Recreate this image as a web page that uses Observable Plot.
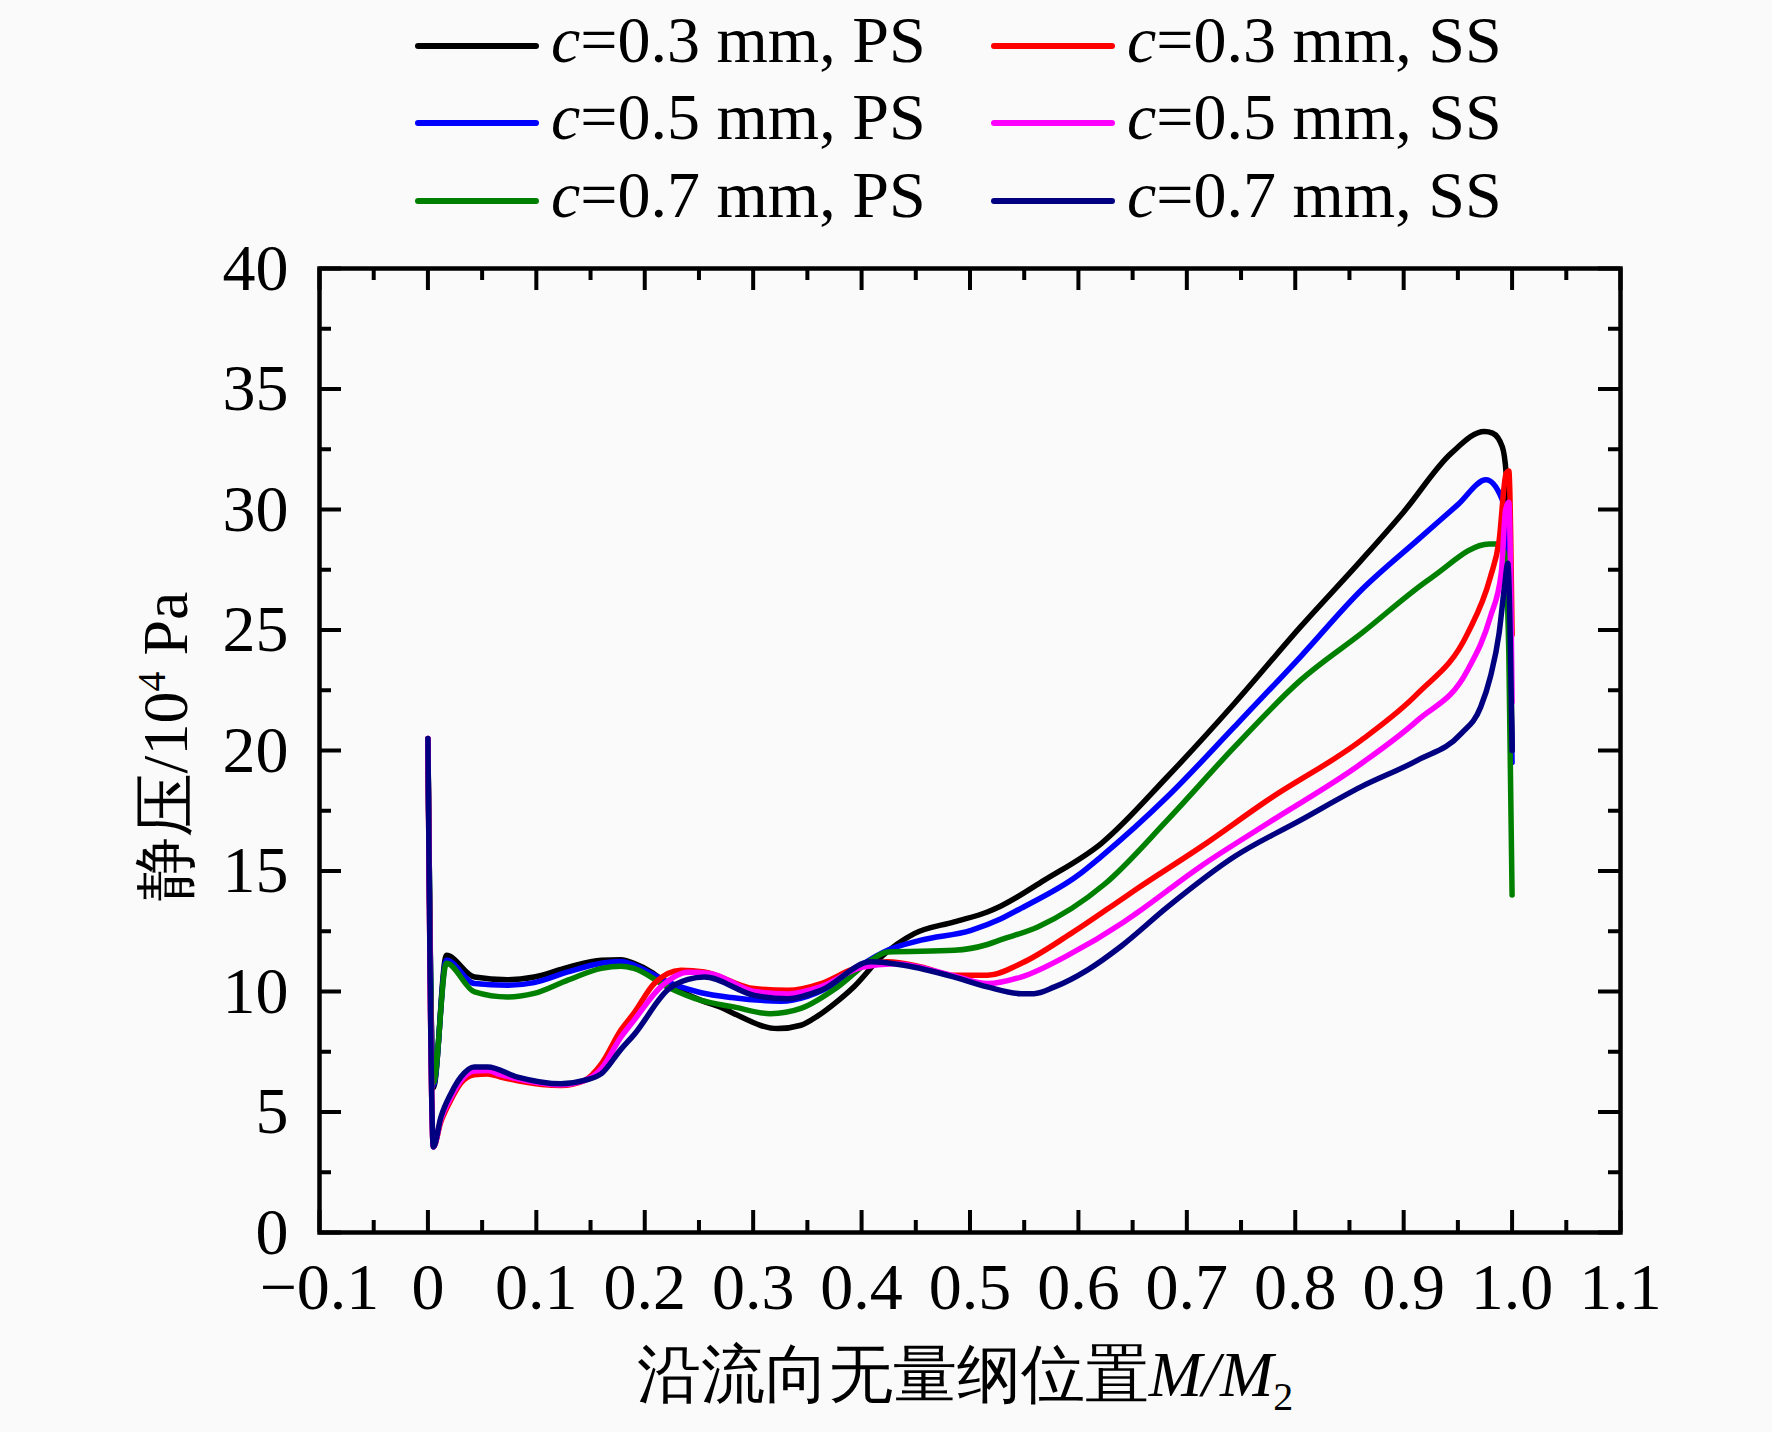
<!DOCTYPE html>
<html>
<head>
<meta charset="utf-8">
<script src="https://cdn.jsdelivr.net/npm/d3@7"></script>
<script src="https://cdn.jsdelivr.net/npm/@observablehq/plot@0.6"></script>
<style>
  html, body { margin: 0; padding: 0; background: #fafafa; }
  #wrap { position: relative; width: 1772px; height: 1432px; background: #fafafa; }
  #legend { position: relative; width: 1772px; height: 220px; font-family: "Liberation Serif", "Times New Roman", serif; font-size: 66px; color: #000; }
  .item { position: absolute; height: 77px; display: flex; align-items: center; white-space: nowrap; }
  .swatch { display: inline-block; width: 124px; height: 6px; border-radius: 3px; margin-right: 12px; margin-top: 12px; }
  .lab { line-height: 1; }
</style>
</head>
<body>
<div id="wrap">
  <div id="legend"></div>
  <div id="chart"></div>
</div>
<script>
// ---- series names and colours ----
const seriesNames = ["c=0.3 mm, PS", "c=0.5 mm, PS", "c=0.7 mm, PS", "c=0.3 mm, SS", "c=0.5 mm, SS", "c=0.7 mm, SS"];
const seriesColors = ["#000000", "#0000ff", "#008000", "#ff0000", "#ff00ff", "#000080"];

// ---- data: [M/M2, static pressure (10^4 Pa)] ----
const ps03 = [[0,20.4],[0.005,6.0],[0.017,11.5],[0.043,10.6],[0.0735,10.49],[0.098,10.6],[0.129,11.0],[0.16,11.3],[0.178,11.32],[0.19,11.17],[0.206,10.81],[0.221,10.33],[0.252,9.63],[0.27,9.35],[0.282,9.09],[0.3226,8.46],[0.344,8.6],[0.36,9.0],[0.375,9.5],[0.393,10.2],[0.418,11.43],[0.4486,12.4],[0.4855,12.89],[0.516,13.3],[0.5286,13.55],[0.5686,14.62],[0.621,16.14],[0.682,18.91],[0.744,21.96],[0.805,25.14],[0.861,27.9],[0.90,29.9],[0.944,32.34],[0.9745,33.24],[0.982,33.17],[0.991,32.6],[0.9945,31.5],[0.998,26],[1.0,20]];
const ps05 = [[0,20.4],[0.005,6.1],[0.017,11.3],[0.043,10.33],[0.0735,10.26],[0.098,10.37],[0.129,10.81],[0.16,11.17],[0.178,11.24],[0.19,11.1],[0.206,10.75],[0.221,10.4],[0.252,9.95],[0.28,9.75],[0.3257,9.6],[0.35,9.8],[0.378,10.4],[0.40,11.1],[0.424,11.71],[0.4548,12.13],[0.501,12.54],[0.5286,13.02],[0.547,13.45],[0.599,14.8],[0.621,15.6],[0.682,18.08],[0.744,20.99],[0.805,23.9],[0.861,26.66],[0.913,28.74],[0.95,30.2],[0.976,31.23],[0.99,30.5],[0.994,29.85],[0.998,25],[1.0,19.5]];
const ps07 = [[0,20.4],[0.005,6.2],[0.017,11.17],[0.043,9.98],[0.0735,9.77],[0.098,9.92],[0.129,10.47],[0.16,10.96],[0.178,11.05],[0.19,10.96],[0.221,10.19],[0.252,9.63],[0.282,9.36],[0.316,9.08],[0.344,9.3],[0.378,10.19],[0.4087,11.3],[0.424,11.64],[0.4855,11.71],[0.516,11.95],[0.5286,12.15],[0.5625,12.68],[0.624,14.45],[0.682,17.11],[0.744,20.15],[0.805,22.92],[0.861,24.86],[0.925,27.15],[0.979,28.57],[0.987,28.57],[0.993,28.2],[0.997,24],[1.0,14]];
const ss03 = [[0,20.5],[0.005,3.55],[0.012,4.6],[0.0212,5.5],[0.0304,6.2],[0.0427,6.55],[0.055,6.58],[0.067,6.45],[0.0828,6.3],[0.1227,6.1],[0.144,6.3],[0.16,7.0],[0.178,8.4],[0.19,9.1],[0.2088,10.33],[0.2334,10.88],[0.255,10.81],[0.301,10.12],[0.332,10.05],[0.3626,10.33],[0.393,10.95],[0.424,11.23],[0.4548,11.02],[0.4855,10.67],[0.516,10.67],[0.547,11.16],[0.593,12.4],[0.639,13.8],[0.652,14.2],[0.713,16.0],[0.7746,17.94],[0.861,20.43],[0.913,22.37],[0.959,24.86],[0.98,27.2],[0.988,28.7],[0.9945,31.5],[0.997,31.6],[1.0,24.8]];
const ss05 = [[0,20.5],[0.005,3.55],[0.012,4.7],[0.0212,5.6],[0.0304,6.3],[0.0427,6.7],[0.055,6.72],[0.067,6.55],[0.0828,6.38],[0.1227,6.13],[0.144,6.3],[0.16,6.8],[0.178,8.1],[0.19,8.8],[0.215,10.2],[0.24,10.8],[0.26,10.75],[0.301,10.0],[0.332,9.9],[0.3626,10.2],[0.40,11.0],[0.43,11.15],[0.4855,10.65],[0.516,10.33],[0.547,10.6],[0.593,11.57],[0.639,12.8],[0.652,13.2],[0.713,15.2],[0.7746,16.98],[0.861,19.46],[0.913,21.26],[0.959,23.34],[0.98,25.55],[0.99,27.36],[0.994,29.98],[0.997,30.3],[1.0,22]];
const ss07 = [[0,20.5],[0.005,3.55],[0.012,4.79],[0.0212,5.76],[0.0304,6.45],[0.0427,6.87],[0.055,6.87],[0.0828,6.45],[0.1227,6.17],[0.144,6.31],[0.16,6.59],[0.178,7.6],[0.19,8.2],[0.222,10.1],[0.24,10.5],[0.255,10.6],[0.301,9.84],[0.332,9.7],[0.3626,10.05],[0.4087,11.23],[0.439,11.09],[0.4855,10.6],[0.516,10.19],[0.547,9.91],[0.559,9.91],[0.578,10.19],[0.6086,10.9],[0.64,11.9],[0.682,13.5],[0.744,15.6],[0.805,17.11],[0.861,18.5],[0.913,19.6],[0.953,20.7],[0.971,21.8],[0.98,23.06],[0.988,24.86],[0.993,26.8],[0.996,27.77],[1.0,20]];

// ---- ticks and titles ----
const xMajorTicks = [-0.1, 0, 0.1, 0.2, 0.3, 0.4, 0.5, 0.6, 0.7, 0.8, 0.9, 1.0, 1.1];
const xMinorTicks = [-0.05, 0.05, 0.15, 0.25, 0.35, 0.45, 0.55, 0.65, 0.75, 0.85, 0.95, 1.05];
const yMajorTicks = [0, 5, 10, 15, 20, 25, 30, 35, 40];
const yMinorTicks = [2.5, 7.5, 12.5, 17.5, 22.5, 27.5, 32.5, 37.5];
const xTitle = "沿流向无量纲位置M/M2";
const yTitle = "静压/104 Pa";

const seriesData = [ps03, ps05, ps07, ss03, ss05, ss07];
const rows = seriesData.flatMap((pts, i) => pts.map(([x, y]) => ({x, y, series: seriesNames[i]})));

// ---- legend (HTML, above the SVG) ----
const legend = document.getElementById("legend");
const legendOrder = [[0, 3], [1, 4], [2, 5]];
const colLeft = [415, 991];
const rowCenter = [40, 117, 195];
legendOrder.forEach((pair, r) => {
  pair.forEach((si, c) => {
    const item = document.createElement("div");
    item.className = "item";
    item.style.left = colLeft[c] + "px";
    item.style.top = (rowCenter[r] - 38.5) + "px";
    const sw = document.createElement("span");
    sw.className = "swatch";
    sw.style.background = seriesColors[si];
    const lab = document.createElement("span");
    lab.className = "lab";
    const name = seriesNames[si];
    lab.innerHTML = "<i>" + name.slice(0, 1) + "</i>" + name.slice(1);
    item.appendChild(sw);
    item.appendChild(lab);
    legend.appendChild(item);
  });
});

// ---- chart ----
const W = 1772, H = 1212, mT = 48, mB = 200, mL = 319, mR = 152;
const frameW = W - mL - mR, frameH = H - mT - mB;
const majorLen = 22, minorLen = 12;
const serif = "Liberation Serif, Times New Roman, serif";

const chart = Plot.plot({
  width: W, height: H,
  marginTop: mT, marginBottom: mB, marginLeft: mL, marginRight: mR,
  style: {background: "transparent", fontFamily: serif, fontSize: "66px", color: "#000"},
  x: {domain: [-0.1, 1.1]},
  y: {domain: [0, 40]},
  color: {domain: seriesNames, range: seriesColors},
  marks: [
    Plot.line(rows, {x: "x", y: "y", z: "series", stroke: "series", strokeWidth: 5.5, curve: "monotone-x", strokeLinejoin: "round", strokeLinecap: "round"}),
    // inward ticks: bottom, top
    Plot.tickX(xMajorTicks, {x: d => d, insetTop: frameH - majorLen, stroke: "#000", strokeWidth: 4}),
    Plot.tickX(xMinorTicks, {x: d => d, insetTop: frameH - minorLen, stroke: "#000", strokeWidth: 4}),
    Plot.tickX(xMajorTicks, {x: d => d, insetBottom: frameH - majorLen, stroke: "#000", strokeWidth: 4}),
    Plot.tickX(xMinorTicks, {x: d => d, insetBottom: frameH - minorLen, stroke: "#000", strokeWidth: 4}),
    // inward ticks: left, right
    Plot.tickY(yMajorTicks, {y: d => d, insetRight: frameW - majorLen, stroke: "#000", strokeWidth: 4}),
    Plot.tickY(yMinorTicks, {y: d => d, insetRight: frameW - minorLen, stroke: "#000", strokeWidth: 4}),
    Plot.tickY(yMajorTicks, {y: d => d, insetLeft: frameW - majorLen, stroke: "#000", strokeWidth: 4}),
    Plot.tickY(yMinorTicks, {y: d => d, insetLeft: frameW - minorLen, stroke: "#000", strokeWidth: 4}),
    Plot.frame({stroke: "#000", strokeWidth: 4.5}),
    Plot.axisX(xMajorTicks, {anchor: "bottom", tickSize: 0, tickPadding: 30, fontSize: 66, label: null,
      tickFormat: d => d === 0 ? "0" : (d < 0 ? "\u2212" + Math.abs(d).toFixed(1) : d.toFixed(1))}),
    Plot.axisY(yMajorTicks, {anchor: "left", tickSize: 0, tickPadding: 31, fontSize: 66, label: null, tickFormat: d => String(d)}),
    Plot.text([xTitle], {text: d => d, frameAnchor: "bottom", textAnchor: "middle", dy: 143, dx: -5, fontSize: 64, lineAnchor: "middle"}),
    Plot.text([yTitle], {text: d => d, frameAnchor: "left", textAnchor: "middle", rotate: -90, dx: -153, dy: -4, fontSize: 64, lineAnchor: "middle"})
  ]
});
document.getElementById("chart").appendChild(chart);

// rich formatting of the two axis titles (italic M, subscript 2, superscript 4)
d3.select(chart).selectAll("text").each(function() {
  const t = d3.select(this);
  const s = this.textContent;
  if (s === xTitle) {
    t.text(null);
    t.append("tspan").text("沿流向无量纲位置");
    t.append("tspan").attr("font-style", "italic").text("M/M");
    t.append("tspan").attr("font-size", 40).attr("dy", 14).text("2");
  } else if (s === yTitle) {
    t.text(null);
    t.append("tspan").text("静压/10");
    t.append("tspan").attr("font-size", 40).attr("dy", -22).text("4");
    t.append("tspan").attr("dy", 22).text(" Pa");
  }
});
</script>
</body>
</html>
